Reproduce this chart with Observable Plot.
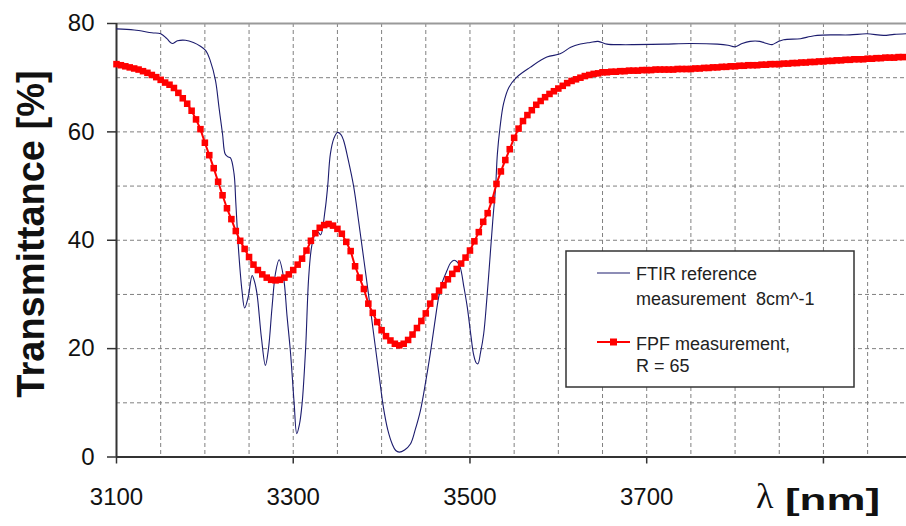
<!DOCTYPE html>
<html>
<head>
<meta charset="utf-8">
<script src="https://cdn.jsdelivr.net/npm/d3@7"></script>
<script src="https://cdn.jsdelivr.net/npm/@observablehq/plot@0.6"></script>
<style>
  html, body { margin: 0; padding: 0; background: #fff; }
  #chart { width: 906px; height: 526px; }
</style>
</head>
<body>
<div id="chart"></div>
<script>
// ---- Data ----
// FTIR reference measurement (wavelength nm, transmittance %)
const ftirWl = [3100,3120,3140,3150,3157,3163,3169,3178,3187,3195,3201,3206,3212,3216,3220,3223,3226,3229,3233,3235,3238,3242,3245,3249,3253.5,3256,3259,3264,3268.5,3272,3276,3280,3284,3289,3293,3297,3301,3304,3307,3310,3314,3317.5,3321,3325,3328,3331,3336,3339,3342,3346,3350,3354,3357,3362,3368.5,3374,3380,3386,3391,3397,3402,3407,3412,3416,3420,3426,3432.6,3438,3444,3450,3455,3460,3464.6,3469,3474,3478,3482,3486,3489,3493,3497,3501,3504,3507,3509,3512,3515.5,3519,3523,3526,3529,3531,3534,3538,3544,3553,3568,3587,3602,3614,3625,3636,3645,3655,3670,3685,3720,3749,3780,3792,3800,3808,3817,3828,3836,3842,3848,3855,3874,3885,3893,3910,3930,3949,3968,3980,3994];
const ftirT  = [79.0,78.8,78.3,78.1,77.2,76.3,76.8,76.9,76.5,75.8,75.0,73.2,69.5,64.5,59.6,55.9,55.4,55.2,52.3,47.0,38.5,30.7,27.5,29.5,33.5,32.5,30.1,22.0,16.9,20.0,27.6,34.0,36.4,33.2,26.0,19.1,10.0,4.3,6.0,9.8,20.0,33.2,39.0,41.2,41.5,41.0,45.5,50.0,55.9,58.8,59.9,59.5,58.4,55.0,49.8,43.5,36.3,29.0,22.7,15.3,9.2,5.0,2.4,1.2,0.9,1.3,2.4,5.0,8.6,14.0,19.0,24.6,29.5,32.4,34.4,35.8,36.3,35.9,35.0,31.5,27.6,22.5,19.0,17.4,17.2,19.3,22.7,29.0,37.5,44.0,49.8,55.9,60.8,65.2,68.2,70.1,71.9,73.8,74.4,75.6,76.2,76.5,76.7,76.2,76.1,76.1,76.2,76.3,76.2,76.0,75.7,76.3,76.7,76.7,76.3,76.1,76.6,77.0,77.2,77.6,77.8,77.9,77.9,78.1,77.8,78.0,78.1];

// FPF measurement, R = 65 (one value per marker)
const fpfWl = [3100,3105,3110,3115,3120,3125,3130,3135,3140,3145,3150,3155,3160,3165,3170,3175,3180,3185,3190,3195,3200,3205,3210,3215,3220,3225,3230,3235,3240,3245,3250,3255,3260,3265,3270,3275,3280,3285,3290,3295,3300,3305,3310,3315,3320,3325,3330,3335,3340,3345,3350,3355,3360,3365,3370,3375,3380,3385,3390,3395,3400,3405,3410,3415,3420,3425,3430,3435,3440,3445,3450,3455,3460,3465,3470,3475,3480,3485,3490,3495,3500,3505,3510,3515,3520,3525,3530,3535,3540,3545,3550,3555,3560,3565,3570,3575,3580,3585,3590,3595,3600,3605,3610,3615,3620,3625,3630,3635,3640,3645,3650,3655,3660,3665,3670,3675,3680,3685,3690,3695,3700,3705,3710,3715,3720,3725,3730,3735,3740,3745,3750,3755,3760,3765,3770,3775,3780,3785,3790,3795,3800,3805,3810,3815,3820,3825,3830,3835,3840,3845,3850,3855,3860,3865,3870,3875,3880,3885,3890,3895,3900,3905,3910,3915,3920,3925,3930,3935,3940,3945,3950,3955,3960,3965,3970,3975,3980,3985,3990];
const fpfT  = [72.5,72.3,72.1,71.9,71.7,71.5,71.2,70.9,70.5,70.1,69.6,69.1,68.7,68.1,67.2,66.2,65.2,63.9,62.3,60.5,58.0,55.7,53.3,50.8,48.3,45.9,43.9,41.7,39.9,38.4,36.9,35.5,34.5,33.7,33.1,32.7,32.6,32.7,33.1,33.7,34.5,35.5,36.6,38.1,39.9,41.3,42.3,42.8,43.0,42.7,42.1,41.2,39.7,38.0,35.2,33.1,31.0,28.3,26.6,24.9,23.4,22.3,21.5,20.9,20.6,20.9,21.6,22.6,23.8,25.1,26.5,28.3,29.6,30.7,31.7,32.8,33.8,34.7,35.7,36.8,38.1,39.8,41.5,43.4,45.0,47.4,50.4,52.7,54.8,56.8,58.9,60.6,62.0,63.1,64.0,65.0,65.7,66.4,67.0,67.5,68.0,68.5,69.0,69.4,69.7,70.0,70.3,70.5,70.7,70.8,71.0,71.0,71.1,71.1,71.2,71.2,71.3,71.3,71.3,71.4,71.4,71.4,71.5,71.5,71.5,71.5,71.5,71.6,71.6,71.6,71.6,71.7,71.7,71.8,71.8,71.9,71.9,72.0,72.0,72.1,72.1,72.2,72.2,72.3,72.3,72.3,72.4,72.4,72.5,72.5,72.5,72.6,72.6,72.7,72.7,72.8,72.8,72.9,72.9,73.0,73.0,73.1,73.1,73.2,73.2,73.3,73.3,73.4,73.4,73.4,73.5,73.5,73.6,73.6,73.7,73.7,73.7,73.8,73.8];

// Axis ticks and grid
const xTicks = [3100, 3300, 3500, 3700, 3900];
const xTickLabels = ["3100", "3300", "3500", "3700", ""];
const yTicks = [0, 20, 40, 60, 80];
const xGrid = [3150,3200,3250,3300,3350,3400,3450,3500,3550,3600,3650,3700,3750,3800,3850,3900,3950];
const yGrid = [10,20,30,40,50,60,70];

const seriesNames = ["FTIR reference", "measurement  8cm^-1", "FPF measurement,", "R = 65"];
const yTitle = "Transmittance [%]";

// ---- Build tables ----
const ftir = ftirWl.map((w, i) => ({wl: w, t: ftirT[i]}));
const fpf = fpfWl.map((w, i) => ({wl: w, t: fpfT[i]}));

const W = 906, H = 526;
const plot = Plot.plot({
  width: W, height: H,
  marginLeft: 116, marginRight: 0, marginTop: 23, marginBottom: 69.5,
  x: {domain: [3100, 3994]},
  y: {domain: [0, 80]},
  style: {fontFamily: "'Liberation Sans', Arial, sans-serif", fontSize: "24px", color: "#111", background: "#fff", overflow: "visible"},
  marks: [
    Plot.ruleX(xGrid, {stroke: "#808080", strokeDasharray: "4,3", strokeWidth: 1}),
    Plot.ruleY(yGrid, {stroke: "#808080", strokeDasharray: "4,3", strokeWidth: 1}),
    Plot.ruleY([80], {stroke: "#9a9a9a", strokeWidth: 2}),
    Plot.ruleX([3100], {stroke: "#333", strokeWidth: 2}),
    Plot.ruleY([0], {stroke: "#333", strokeWidth: 2}),
    Plot.axisX({ticks: xTicks, tickSize: 7, tickPadding: 24, label: null, tickFormat: d => xTickLabels[xTicks.indexOf(d)], stroke: "#333", strokeWidth: 1.5}),
    Plot.axisY({ticks: yTicks, tickSize: 9, tickPadding: 13, label: null, stroke: "#333", strokeWidth: 1.5}),
    Plot.line(ftir, {x: "wl", y: "t", stroke: "#1c1c6e", strokeWidth: 1.1, curve: "catmull-rom"}),
    Plot.line(fpf, {x: "wl", y: "t", stroke: "#ff0000", strokeWidth: 2}),
    Plot.dot(fpf, {x: "wl", y: "t", symbol: "square", r: 3.7, fill: "#ff0000", stroke: "none"})
  ]
});
document.getElementById("chart").appendChild(plot);

// ---- Titles and legend ----
const svg = d3.select(plot);
svg.append("text")
  .attr("transform", "translate(31,234) rotate(-90)")
  .attr("text-anchor", "middle")
  .attr("dominant-baseline", "central")
  .style("font-family", "'Liberation Sans', Arial, sans-serif")
  .style("font-weight", "bold")
  .style("font-size", "38px")
  .attr("fill", "#111")
  .text(yTitle);

svg.append("text")
  .attr("x", 756).attr("y", 508)
  .attr("text-anchor", "start")
  .style("font-family", "'Liberation Serif', 'DejaVu Serif', serif")
  .style("font-size", "36px")
  .attr("fill", "#111")
  .text("λ");
svg.append("text")
  .attr("x", 785).attr("y", 510)
  .attr("text-anchor", "start")
  .attr("textLength", 95).attr("lengthAdjust", "spacingAndGlyphs")
  .style("font-family", "'Liberation Sans', Arial, sans-serif")
  .style("font-weight", "bold")
  .style("font-size", "30px")
  .attr("fill", "#111")
  .text("[nm]");

const lg = svg.append("g").attr("text-anchor", "start");
lg.append("rect").attr("x", 566).attr("y", 251).attr("width", 288).attr("height", 136)
  .attr("fill", "#fff").attr("stroke", "#333").attr("stroke-width", 1.5);
lg.append("line").attr("x1", 597).attr("x2", 630).attr("y1", 273).attr("y2", 273)
  .attr("stroke", "#1c1c6e").attr("stroke-width", 1.2);
lg.append("line").attr("x1", 597).attr("x2", 630).attr("y1", 342).attr("y2", 342)
  .attr("stroke", "#ff0000").attr("stroke-width", 2);
lg.append("rect").attr("x", 610).attr("y", 338.5).attr("width", 7).attr("height", 7).attr("fill", "#ff0000");
const ly = [280, 305, 350, 371.5];
seriesNames.forEach((s, i) => {
  lg.append("text").attr("x", 636).attr("y", ly[i])
    .attr("text-anchor", "start")
    .style("font-family", "'Liberation Sans', Arial, sans-serif")
    .style("font-size", "18px")
    .style("white-space", "pre")
    .attr("xml:space", "preserve")
    .attr("fill", "#222")
    .text(s);
});
</script>
</body>
</html>
